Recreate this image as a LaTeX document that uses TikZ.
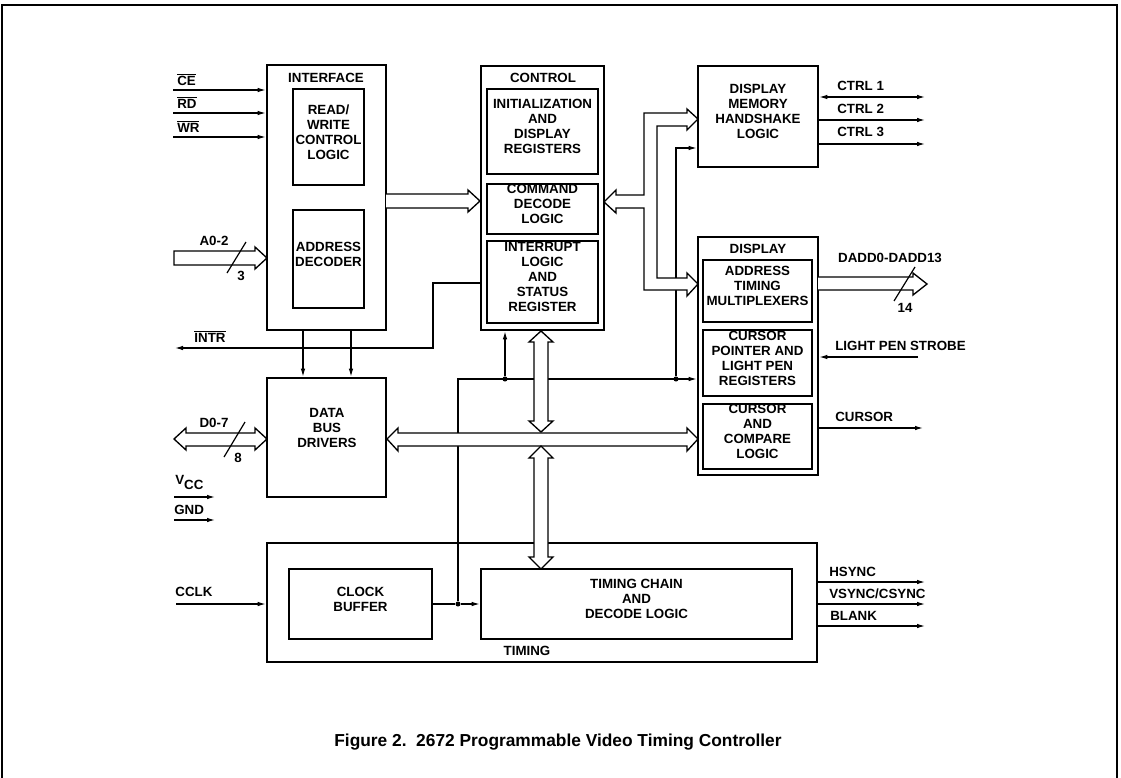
\documentclass[tikz,border=0pt]{standalone}
\usepackage{fontspec}
\setmainfont{Liberation Sans}
\usetikzlibrary{arrows.meta,fit,calc}
\newcommand{\lblfont}{\bfseries\fontsize{10}{11.25}\selectfont}
\newcommand{\ovl}[1]{$\overline{\mbox{#1}}$}
\begin{document}
\begin{tikzpicture}[x=0.75pt,y=-0.75pt,
  >={Latex[length=6pt,width=3.4pt]},
  blk/.style={draw, line width=1.9pt, inner sep=0pt, align=center, font=\lblfont},
  lbl/.style={inner sep=0pt, align=center, font=\lblfont},
  sig/.style={line width=0.9pt},
  bus/.style={draw, line width=1pt, fill=white, line join=miter},
  dot/.style={circle, fill, inner sep=0pt, minimum size=3.8pt},
  frame/.style={line width=1.5pt}]
\useasboundingbox (0,0) rectangle (1121,778);
\draw[frame] (2,778) -- (2,5) -- (1117,5) -- (1117,778);

% ---------- blocks ----------
\node[blk, fit={(267,65)(386,330)}] (iface) {};
\node[lbl] (ifaceT) at (326,78) {INTERFACE};
\node[blk, fit={(293,89)(364,185)}] (rw) {READ/\\WRITE\\CONTROL\\LOGIC};
\node[blk, fit={(293,210)(364,308)}] (addr) {ADDRESS\\DECODER};

\node[blk, fit={(481,66)(604,330)}] (ctrl) {};
\node[lbl] (ctrlT) at (543,78) {CONTROL};
\node[blk, fit={(487,89)(598,174)}] (init) {INITIALIZATION\\AND\\DISPLAY\\REGISTERS};
\node[blk, fit={(487,184)(598,234)}] (cmd) {COMMAND\\DECODE\\LOGIC};
\node[blk, fit={(487,241)(598,323)}] (irq) {INTERRUPT\\LOGIC\\AND\\STATUS\\REGISTER};

\node[blk, fit={(698,66)(818,167)}] (dmh) {DISPLAY\\MEMORY\\HANDSHAKE\\LOGIC};

\node[blk, fit={(698,237)(818,475)}] (disp) {};
\node[lbl] (dispT) at (758,249) {DISPLAY};
\node[blk, fit={(703,260)(812,322)}] (atm) {ADDRESS\\TIMING\\MULTIPLEXERS};
\node[blk, fit={(703,330)(812,396)}] (cpl) {CURSOR\\POINTER AND\\LIGHT PEN\\REGISTERS};
\node[blk, fit={(703,404)(812,469)}] (ccl) {CURSOR\\AND\\COMPARE\\LOGIC};

\node[blk, fit={(267,378)(386,497)}] (dbd) {};
\node[lbl] (dbdT) at (327,428) {DATA\\BUS\\DRIVERS};

\node[blk, fit={(267,543)(817,662)}] (tim) {};
\node[lbl] (timT) at (527,651) {TIMING};
\node[blk, fit={(289,569)(432,639)}] (clk) {CLOCK\\BUFFER};
\node[blk, fit={(481,569)(792,639)}] (tch) {TIMING CHAIN\\AND\\DECODE LOGIC};

% ---------- thin signals ----------
\coordinate (ceS) at (173,90);
\coordinate (rdS) at (173,113);
\coordinate (wrS) at (173,137);
\draw[sig,->] (ceS) -- (ceS -| iface.west);
\draw[sig,->] (rdS) -- (rdS -| iface.west);
\draw[sig,->] (wrS) -- (wrS -| iface.west);
\node[lbl, anchor=base west] (ceL) at (177,85) {\ovl{CE}};
\node[lbl, anchor=base west] (rdL) at (177,108) {\ovl{RD}};
\node[lbl, anchor=base west] (wrL) at (177,132) {\ovl{WR}};

\coordinate (intrE) at (175,348);
\coordinate (intrK) at (433,283);
\draw[sig,->] (intrK -| ctrl.west) -- (intrK) -- (intrK |- intrE) -- (intrE);
\node[lbl, anchor=base] (intrL) at (210,342) {\ovl{INTR}};

\coordinate (v1) at (303,330);
\coordinate (v2) at (351,330);
\draw[sig,->] (v1) -- (v1 |- dbd.north);
\draw[sig,->] (v2) -- (v2 |- dbd.north);

\coordinate (vccS) at (174,497);
\coordinate (vccE) at (215,497);
\coordinate (gndS) at (174,520);
\coordinate (gndE) at (215,520);
\draw[sig,->] (vccS) -- (vccE);
\draw[sig,->] (gndS) -- (gndE);
\node[lbl, anchor=base west] (vccL) at (175,489) {\raisebox{3.5pt}{V}CC};
\node[lbl, anchor=base west] (gndL) at (174,514) {GND};

\coordinate (cclkS) at (176,604);
\draw[sig,->] (cclkS) -- (cclkS -| tim.west);
\node[lbl] (cclkL) at (194,592) {CCLK};

\node[dot] (dclk) at (458,604) {};
\node[dot] (dctl) at (505,379) {};
\node[dot] (ddmh) at (676,379) {};
\draw[sig,->] (clk.east |- dclk) -- (dclk) -- (dclk -| tch.west);
\draw[sig,->] (dclk) -- (dclk |- dctl) -- (dctl -| disp.west);
\draw[sig,->] (dctl) -- (dctl |- ctrl.south);
\coordinate (dmhIn) at (676,148);
\draw[sig,->] (ddmh) -- (dmhIn) -- (dmhIn -| dmh.west);

\coordinate (c1) at (925,97);
\coordinate (c2) at (925,120);
\coordinate (c3) at (925,144);
\draw[sig,<->] (c1 -| dmh.east) -- (c1);
\draw[sig,->] (c2 -| dmh.east) -- (c2);
\draw[sig,->] (c3 -| dmh.east) -- (c3);
\node[lbl, anchor=west] (c1L) at (837,86) {CTRL 1};
\node[lbl, anchor=west] (c2L) at (837,109) {CTRL 2};
\node[lbl, anchor=west] (c3L) at (837,132) {CTRL 3};

\coordinate (lp) at (918,357);
\draw[sig,->] (lp) -- (lp -| disp.east);
\node[lbl, anchor=west] (lpL) at (835,346) {LIGHT PEN STROBE};
\coordinate (cur) at (923,428);
\draw[sig,->] (cur -| disp.east) -- (cur);
\node[lbl, anchor=west] (curL) at (835,417) {CURSOR};

\coordinate (hs) at (925,582);
\coordinate (vs) at (925,604);
\coordinate (bl) at (925,626);
\draw[sig,->] (hs -| tim.east) -- (hs);
\draw[sig,->] (vs -| tim.east) -- (vs);
\draw[sig,->] (bl -| tim.east) -- (bl);
\node[lbl, anchor=west] (hsL) at (829,572) {HSYNC};
\node[lbl, anchor=west] (vsL) at (829,594) {VSYNC/CSYNC};
\node[lbl, anchor=west] (blL) at (830,616) {BLANK};

% ---------- buses ----------
\draw[bus] (174,251) -- (255,251) -- (255,247) -- (267,258) -- (255,269) -- (255,265) -- (174,265) -- cycle;
\draw[sig] (227,273) -- (246,242);
\node[lbl] (a0L) at (214,241) {A0-2};
\node[lbl] (a0n) at (241,276) {3};

\draw[bus] (386,194) -- (468,194) -- (468,190) -- (480,201) -- (468,212) -- (468,208) -- (386,208);

\draw[bus] (174,439) -- (186,428) -- (186,433) -- (255,433) -- (255,428) -- (267,439) -- (255,450) -- (255,446) -- (186,446) -- (186,450) -- cycle;
\draw[sig] (224,457) -- (245,422);
\node[lbl] (d0L) at (214,423) {D0-7};
\node[lbl] (d0n) at (238,458) {8};

\draw[bus] (387,439) -- (398,428) -- (398,433) -- (687,433) -- (687,428) -- (698,439) -- (687,451) -- (687,446) -- (398,446) -- (398,451) -- cycle;

\draw[bus] (541,331) -- (553,342) -- (548,342) -- (548,421) -- (553,421) -- (541,432) -- (529,421) -- (534,421) -- (534,342) -- (529,342) -- cycle;
\draw[bus] (541,446) -- (553,458) -- (548,458) -- (548,557) -- (553,557) -- (541,569) -- (529,557) -- (534,557) -- (534,458) -- (529,458) -- cycle;

\draw[bus] (604,202) -- (616,190) -- (616,195) -- (644,195) -- (644,113) -- (687,113) -- (687,109) -- (698,119) -- (687,130) -- (687,126) -- (657,126) -- (657,278) -- (687,278) -- (687,273) -- (698,284) -- (687,296) -- (687,290) -- (644,290) -- (644,208) -- (616,208) -- (616,213) -- cycle;

\draw[bus] (818,277) -- (913,277) -- (913,273) -- (927,284) -- (913,295) -- (913,290) -- (818,290);
\draw[sig] (894,301) -- (915,267);
\node[lbl] (daL) at (890,258) {DADD0-DADD13};
\node[lbl] (dan) at (905,308) {14};

% ---------- caption ----------
\node[inner sep=0pt, font=\bfseries\fontsize{13}{15}\selectfont] (cap) at (558,742) {Figure 2.\ \ 2672 Programmable Video Timing Controller};
\end{tikzpicture}
\end{document}
